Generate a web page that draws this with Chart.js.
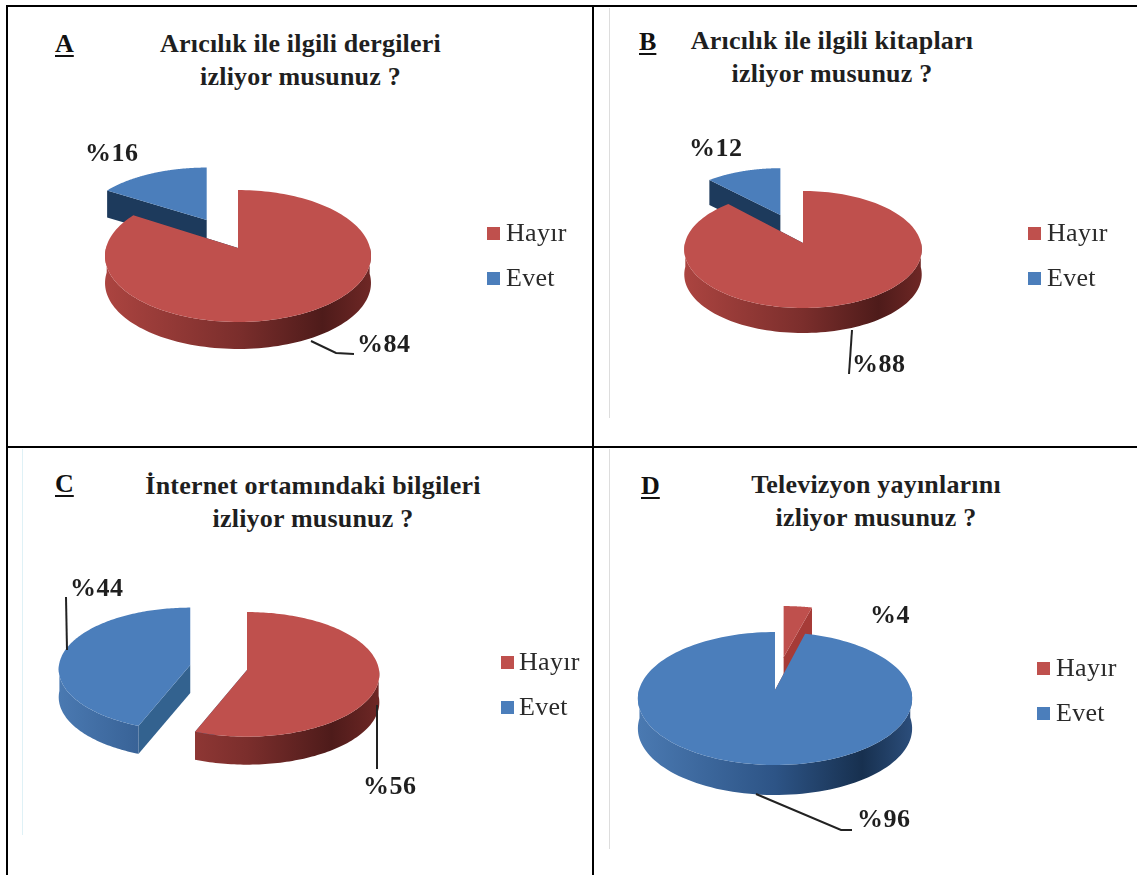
<!DOCTYPE html>
<html lang="tr">
<head>
<meta charset="utf-8">
<title>Arıcılık bilgi kaynakları</title>
<script src="https://cdn.jsdelivr.net/npm/chart.js@4"></script>
<style>
  html, body { margin: 0; padding: 0; background: #fff; }
  #page { position: relative; width: 1137px; height: 875px; overflow: hidden; font-family: "Liberation Serif", serif; color: #1f1f1f; }
  canvas { position: absolute; }
  .rule { position: absolute; background: #000; }
  .faint { position: absolute; width: 1px; }
  .letter { position: absolute; font-weight: bold; font-size: 26px; line-height: 28px; text-decoration: underline; text-decoration-thickness: 2px; text-underline-offset: 3px; color: #111; }
  .title { position: absolute; width: 400px; text-align: center; font-weight: bold; font-size: 26px; line-height: 33px; letter-spacing: .2px; white-space: pre; }
</style>
</head>
<body>
<div id="page">
  <div class="rule" style="left:6px;top:5px;width:1131px;height:2px"></div>
  <div class="rule" style="left:6px;top:5px;width:2px;height:870px"></div>
  <div class="rule" style="left:592px;top:5px;width:2px;height:870px"></div>
  <div class="rule" style="left:6px;top:446px;width:1131px;height:2px"></div>
  <div class="faint" style="left:609px;top:8px;height:410px;background:#ddd"></div>
  <div class="faint" style="left:22px;top:449px;height:386px;background:#dff1f6"></div>
  <div class="faint" style="left:609px;top:449px;height:400px;background:#ddd"></div>
</div>
<script>
const categories = ['Hayır', 'Evet'];
const panelLetters = ['A', 'B', 'C', 'D'];
const panelTitles = [
  'Arıcılık ile ilgili dergileri\nizliyor musunuz ?',
  'Arıcılık ile ilgili kitapları\nizliyor musunuz ?',
  'İnternet ortamındaki bilgileri\nizliyor musunuz ?',
  'Televizyon yayınlarını\nizliyor musunuz ?'
];
const valuesA = [84, 16];
const valuesB = [88, 12];
const valuesC = [56, 44];
const valuesD = [4, 96];
const seriesValues = [valuesA, valuesB, valuesC, valuesD];

const RED = '#bf504d';
const BLUE = '#4b7ebb';

// page layout of each panel; the pie sits on a tilted disc, k is the perspective strength
const layouts = [
  {
    box: [8, 8, 584, 438], letter: [55, 30], title: [300.5, 27],
    cx: 238, cy: 248, rx: 132, ry: 65, k: 0.121, depth: 27, explode: [0, 0.52], cut: '#1d3a5c',
    legend: [487, 233, 278], legendText: 506,
    labels: [[357, 352], [85, 161]],
    leaders: [[[311, 341], [336, 353], [354, 354]]]
  },
  {
    box: [594, 8, 543, 438], letter: [639, 28], title: [832, 24],
    cx: 803, cy: 243, rx: 118, ry: 57.8, k: 0.111, depth: 25, explode: [0, 0.55], cut: '#1d3a5c',
    legend: [1028, 233, 278], legendText: 1047,
    labels: [[852, 372], [689, 156]],
    leaders: [[[852, 330], [849, 374]]]
  },
  {
    box: [8, 448, 584, 427], letter: [55, 470], title: [313, 469],
    cx: 247, cy: 670, rx: 132, ry: 62, k: 0.07, depth: 28, explode: [0, 0.44], cut: '#33628f',
    legend: [501, 662, 707], legendText: 519,
    labels: [[363, 794], [70, 596]],
    leaders: [[[377, 705], [377, 769]], [[66, 597], [67, 650]]]
  },
  {
    box: [594, 448, 543, 427], letter: [641, 472], title: [876, 468],
    cx: 775, cy: 690, rx: 136, ry: 65.4, k: 0.128, depth: 30, explode: [0.54, 0], cut: '#a63b37',
    legend: [1037, 668, 713], legendText: 1056,
    labels: [[870, 623], [857, 827]],
    leaders: [[[756, 794], [841, 830], [852, 830]]]
  }
];

function wallGradient(ctx, left, right, colour) {
  const g = ctx.createLinearGradient(left, 0, right, 0);
  const stops = colour === RED
    ? ['#ab4440', '#7b2e2c', '#4e1b1a', '#6e2725']
    : ['#4a79b1', '#2d5486', '#17304f', '#2b4d7a'];
  g.addColorStop(0, stops[0]);
  g.addColorStop(0.5, stops[1]);
  g.addColorStop(0.82, stops[2]);
  g.addColorStop(1, stops[3]);
  return g;
}

// paints the arcs on the tilted disc, using the angles Chart.js worked out for each slice
const tiltedPie = {
  id: 'tiltedPie',
  beforeDatasetDraw(chart) {
    const ctx = chart.ctx;
    const cfg = chart.options.plugins.tiltedPie.layout;
    const arcs = chart.getDatasetMeta(0).data;
    const trace = pts => {
      ctx.beginPath();
      pts.forEach((p, i) => i ? ctx.lineTo(p[0], p[1]) : ctx.moveTo(p[0], p[1]));
      ctx.closePath();
    };

    ctx.save();
    ctx.translate(-cfg.box[0], -cfg.box[1]);

    // far slices first so nearer ones cover them
    const order = arcs.map((arc, i) => {
      const { startAngle, endAngle } = arc.getProps(['startAngle', 'endAngle'], true);
      return { i, startAngle, endAngle, mid: (startAngle + endAngle) / 2 };
    }).sort((a, b) => Math.sin(a.mid) * cfg.explode[a.i] - Math.sin(b.mid) * cfg.explode[b.i]);

    order.forEach(s => {
      const colour = chart.data.datasets[0].backgroundColor[s.i];
      const ou = Math.cos(s.mid) * cfg.explode[s.i];
      const ov = Math.sin(s.mid) * cfg.explode[s.i];
      const apexX = cfg.cx + cfg.rx * ou / (1 - cfg.k * ov);
      const apex = drop => [apexX, cfg.cy + cfg.ry * ov / (1 - cfg.k * ov) + drop];
      const rim = (a, drop) => {
        const v = ov + Math.sin(a);
        const d = 1 - cfg.k * v;
        return [apexX + cfg.rx * Math.cos(a) / d, cfg.cy + cfg.ry * v / d + drop];
      };
      const steps = 160;
      const angles = [];
      for (let n = 0; n <= steps; n++) angles.push(s.startAngle + (s.endAngle - s.startAngle) * n / steps);

      // cut faces along both straight edges
      ctx.fillStyle = cfg.cut;
      [s.startAngle, s.endAngle].forEach(a => {
        trace([apex(0), rim(a, 0), rim(a, cfg.depth), apex(cfg.depth)]);
        ctx.fill();
      });

      // outer wall, only the part turned towards the viewer
      const front = angles.filter(a => Math.sin(a) > -0.05);
      if (front.length > 1) {
        const left = rim(Math.PI, 0)[0];
        const right = rim(0, 0)[0];
        ctx.fillStyle = wallGradient(ctx, left, right, colour);
        trace(front.map(a => rim(a, 0)).concat(front.slice().reverse().map(a => rim(a, cfg.depth))));
        ctx.fill();
      }

      // top face
      ctx.fillStyle = colour;
      trace([apex(0)].concat(angles.map(a => rim(a, 0))));
      ctx.fill();
    });

    // leader lines
    ctx.strokeStyle = '#222';
    ctx.lineWidth = 2;
    cfg.leaders.forEach(line => {
      ctx.beginPath();
      line.forEach((p, i) => i ? ctx.lineTo(p[0], p[1]) : ctx.moveTo(p[0], p[1]));
      ctx.stroke();
    });

    // value labels
    ctx.fillStyle = '#1f1f1f';
    ctx.textAlign = 'left';
    ctx.textBaseline = 'alphabetic';
    ctx.font = 'bold 26px "Liberation Serif", serif';
    ctx.letterSpacing = '0.5px';
    chart.data.datasets[0].data.forEach((v, i) => {
      const at = cfg.labels[i];
      ctx.fillText('%' + v, at[0], at[1]);
    });

    // legend
    ctx.font = '26px "Liberation Serif", serif';
    ctx.letterSpacing = '0.3px';
    ctx.textBaseline = 'middle';
    chart.data.labels.forEach((name, i) => {
      const y = cfg.legend[i + 1];
      ctx.fillStyle = chart.data.datasets[0].backgroundColor[i];
      ctx.fillRect(cfg.legend[0], y - 6, 13, 13);
      ctx.fillStyle = '#2a2a2a';
      ctx.fillText(name, cfg.legendText, y + 1);
    });
    ctx.letterSpacing = '0px';
    ctx.restore();
    return false;
  }
};

const page = document.getElementById('page');

layouts.forEach((cfg, p) => {
  const letter = document.createElement('div');
  letter.className = 'letter';
  letter.style.left = cfg.letter[0] + 'px';
  letter.style.top = cfg.letter[1] + 'px';
  letter.textContent = panelLetters[p];
  page.appendChild(letter);

  const title = document.createElement('div');
  title.className = 'title';
  title.style.left = (cfg.title[0] - 200) + 'px';
  title.style.top = cfg.title[1] + 'px';
  title.textContent = panelTitles[p];
  page.appendChild(title);

  const canvas = document.createElement('canvas');
  canvas.width = cfg.box[2];
  canvas.height = cfg.box[3];
  canvas.style.left = cfg.box[0] + 'px';
  canvas.style.top = cfg.box[1] + 'px';
  page.appendChild(canvas);

  new Chart(canvas.getContext('2d'), {
    type: 'pie',
    data: {
      labels: categories,
      datasets: [{ data: seriesValues[p], backgroundColor: [RED, BLUE], borderWidth: 0 }]
    },
    options: {
      responsive: false,
      animation: false,
      plugins: {
        legend: { display: false },
        tooltip: { enabled: false },
        tiltedPie: { layout: cfg }
      }
    },
    plugins: [tiltedPie]
  });
});
</script>
</body>
</html>
